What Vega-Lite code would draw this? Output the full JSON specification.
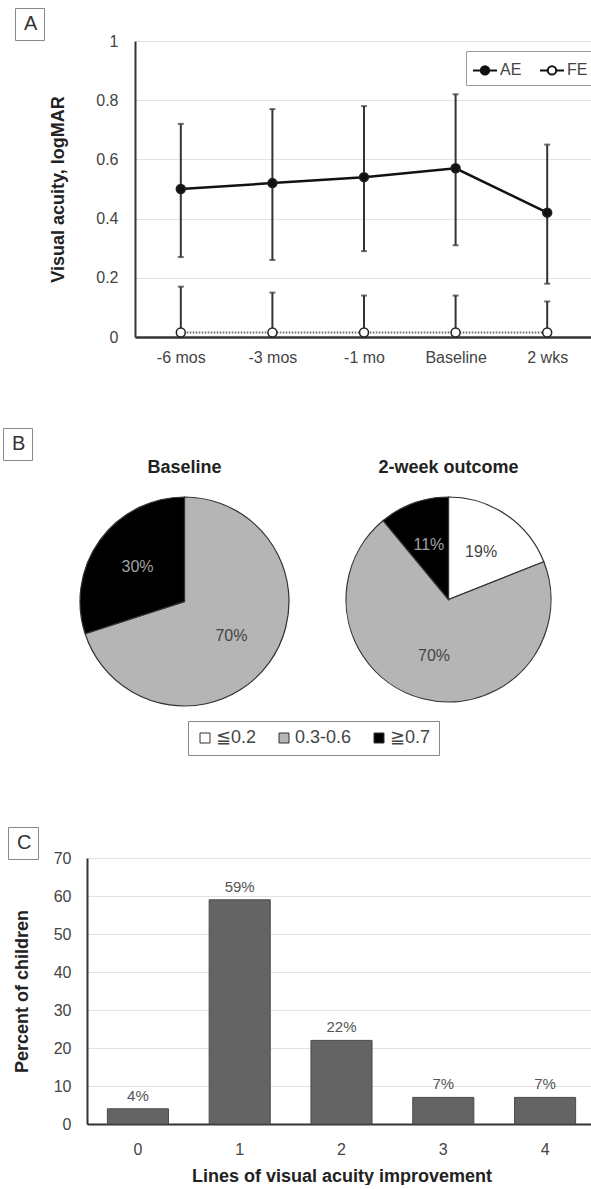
{
  "$schema": "https://vega.github.io/schema/vega-lite/v6.json",
  "background": "white",
  "padding": {"left": 0, "top": 7, "right": 0, "bottom": 0},
  "config": {
    "font": "Liberation Sans",
    "view": {"stroke": null},
    "axis": {"labelFont": "Liberation Sans", "labelFontSize": 16, "labelColor": "#444", "titleFont": "Liberation Sans", "titleFontSize": 18, "titleFontWeight": "bold", "titleColor": "#222", "gridColor": "#e2e2e2", "gridWidth": 1, "domainColor": "#333", "domainWidth": 2, "ticks": false, "labelOverlap": false},
    "legend": {"labelFont": "Liberation Sans", "titleFont": "Liberation Sans"},
    "title": {"font": "Liberation Sans", "fontSize": 18, "fontWeight": "bold", "color": "#222"}
  },
  "columns": 1,
  "spacing": 62,
  "resolve": {
    "scale": {"shape": "independent", "fill": "independent", "color": "independent"},
    "legend": {"shape": "independent", "fill": "independent", "color": "independent"}
  },
  "concat": [
    {
      "spacing": 13,
      "resolve": {
        "scale": {"shape": "independent", "fill": "independent"},
        "legend": {"shape": "independent", "fill": "independent"}
      },
      "hconcat": [
        {"width": 1, "height": 1, "data": {"values": []}, "mark": {"type": "point", "opacity": 0}},
        {
          "width": 458,
          "height": 296,
          "data": {"values": [
            {"time": "-6 mos", "eye": "AE", "va": 0.50, "lo": 0.27, "hi": 0.72},
            {"time": "-3 mos", "eye": "AE", "va": 0.52, "lo": 0.26, "hi": 0.77},
            {"time": "-1 mo", "eye": "AE", "va": 0.54, "lo": 0.29, "hi": 0.78},
            {"time": "Baseline", "eye": "AE", "va": 0.57, "lo": 0.31, "hi": 0.82},
            {"time": "2 wks", "eye": "AE", "va": 0.42, "lo": 0.18, "hi": 0.65},
            {"time": "-6 mos", "eye": "FE", "va": 0.015, "lo": -0.14, "hi": 0.17},
            {"time": "-3 mos", "eye": "FE", "va": 0.015, "lo": -0.12, "hi": 0.15},
            {"time": "-1 mo", "eye": "FE", "va": 0.015, "lo": -0.11, "hi": 0.14},
            {"time": "Baseline", "eye": "FE", "va": 0.015, "lo": -0.11, "hi": 0.14},
            {"time": "2 wks", "eye": "FE", "va": 0.015, "lo": -0.09, "hi": 0.12}
          ]},
          "encoding": {
            "x": {"field": "time", "type": "ordinal", "sort": ["-6 mos", "-3 mos", "-1 mo", "Baseline", "2 wks"], "scale": {"type": "point", "padding": 0.5}, "axis": {"title": null, "labelAngle": 0, "labelPadding": 12, "grid": false, "domainWidth": 2.5}}
          },
          "layer": [
            {
              "mark": {"type": "rule", "color": "#333", "strokeWidth": 2, "clip": true},
              "encoding": {
                "y": {"field": "lo", "type": "quantitative", "title": "Visual acuity, logMAR", "scale": {"domain": [0, 1]}, "axis": {"values": [0, 0.2, 0.4, 0.6, 0.8, 1], "tickCount": 12, "format": "~g", "labelPadding": 17, "titlePadding": 28, "grid": true}},
                "y2": {"field": "hi"}
              }
            },
            {
              "mark": {"type": "tick", "orient": "horizontal", "color": "#333", "thickness": 2, "size": 6, "clip": true},
              "encoding": {"y": {"field": "hi", "type": "quantitative", "title": "Visual acuity, logMAR"}}
            },
            {
              "mark": {"type": "tick", "orient": "horizontal", "color": "#333", "thickness": 2, "size": 6, "clip": true},
              "encoding": {"y": {"field": "lo", "type": "quantitative", "title": "Visual acuity, logMAR"}}
            },
            {
              "transform": [{"filter": "datum.eye === 'FE'"}],
              "mark": {"type": "line", "color": "#666", "strokeWidth": 2, "strokeDash": [1.5, 1.5]},
              "encoding": {"y": {"field": "va", "type": "quantitative", "title": "Visual acuity, logMAR"}}
            },
            {
              "transform": [{"filter": "datum.eye === 'AE'"}],
              "mark": {"type": "line", "color": "#111", "strokeWidth": 2.5},
              "encoding": {"y": {"field": "va", "type": "quantitative", "title": "Visual acuity, logMAR"}}
            },
            {
              "mark": {"type": "circle", "size": 80, "stroke": "#222", "strokeWidth": 1.5, "opacity": 1},
              "encoding": {
                "y": {"field": "va", "type": "quantitative", "title": "Visual acuity, logMAR"},
                "fill": {"field": "eye", "type": "nominal", "scale": {"domain": ["AE", "FE"], "range": ["#111111", "#ffffff"]},
                  "legend": {"orient": "none", "legendX": 331, "legendY": 10, "direction": "horizontal", "title": null, "strokeColor": "#999", "padding": 6,
                    "symbolType": "M-1,0H-0.35M0.35,0H1M-0.35,0A0.35,0.35,0,1,0,0.35,0A0.35,0.35,0,1,0,-0.35,0Z", "symbolSize": 576, "symbolStrokeColor": "#111", "symbolStrokeWidth": 2,
                    "labelFontSize": 16, "labelColor": "#444", "labelOffset": 2, "columnPadding": 14}}
              }
            },
            {
              "mark": {"type": "point", "opacity": 0},
              "encoding": {"shape": {"datum": "A", "legend": {"orient": "none", "legendX": -120, "legendY": -33, "title": null, "strokeColor": "#888", "padding": 6, "symbolSize": 0, "symbolOpacity": 0, "symbolStrokeWidth": 0, "labelFontSize": 20, "labelColor": "#333", "labelOffset": -17}}}
            }
          ]
        }
      ]
    },
    {
      "columns": 1,
      "spacing": 70,
      "resolve": {
        "scale": {"color": "independent", "shape": "independent"},
        "legend": {"color": "independent", "shape": "independent"}
      },
      "concat": [
        {
          "spacing": 51,
          "resolve": {
            "scale": {"color": "shared", "shape": "shared"},
            "legend": {"color": "shared", "shape": "shared"}
          },
          "hconcat": [
            {"width": 26, "height": 1, "data": {"values": []}, "mark": {"type": "point", "opacity": 0}},
            {
              "width": 209,
              "height": 209,
              "title": {"text": "Baseline", "offset": 18},
              "data": {"values": [
                {"cat": "0.3-0.6", "pct": 70, "k": 2, "label": "70%"},
                {"cat": "≧0.7", "pct": 30, "k": 3, "label": "30%"}
              ]},
              "layer": [
                {
                  "mark": {"type": "arc", "stroke": "#333", "strokeWidth": 1.2},
                  "encoding": {
                    "theta": {"field": "pct", "type": "quantitative", "stack": true},
                    "order": {"field": "k", "type": "quantitative"},
                    "color": {"field": "cat", "type": "nominal", "scale": {"domain": ["≦0.2", "0.3-0.6", "≧0.7"], "range": ["#ffffff", "#b5b5b5", "#000000"]},
                      "legend": {"orient": "none", "legendX": 188, "legendY": 224, "direction": "horizontal", "title": null, "strokeColor": "#888", "padding": 8,
                        "symbolType": "square", "symbolSize": 100, "symbolStrokeColor": "#333", "symbolStrokeWidth": 1, "labelFontSize": 18, "labelColor": "#444", "labelOffset": 2, "columnPadding": 18}}
                  }
                },
                {
                  "mark": {"type": "text", "radius": 58, "fontSize": 16},
                  "encoding": {
                    "theta": {"field": "pct", "type": "quantitative", "stack": true},
                    "order": {"field": "k", "type": "quantitative"},
                    "text": {"field": "label"},
                    "color": {"condition": {"test": "datum.cat === '≧0.7'", "value": "#a0a0a0"}, "value": "#444"}
                  }
                },
                {
                  "mark": {"type": "point", "opacity": 0},
                  "encoding": {"shape": {"datum": "B", "legend": {"orient": "none", "legendX": 3, "legendY": -69, "title": null, "strokeColor": "#888", "padding": 6, "symbolSize": 0, "symbolOpacity": 0, "symbolStrokeWidth": 0, "labelFontSize": 20, "labelColor": "#333", "labelOffset": -17}}}
                }
              ]
            },
            {
              "width": 205,
              "height": 205,
              "title": {"text": "2-week outcome", "offset": 18},
              "data": {"values": [
                {"cat": "≦0.2", "pct": 19, "k": 1, "label": "19%"},
                {"cat": "0.3-0.6", "pct": 70, "k": 2, "label": "70%"},
                {"cat": "≧0.7", "pct": 11, "k": 3, "label": "11%"}
              ]},
              "layer": [
                {
                  "mark": {"type": "arc", "stroke": "#333", "strokeWidth": 1.2},
                  "encoding": {
                    "theta": {"field": "pct", "type": "quantitative", "stack": true},
                    "order": {"field": "k", "type": "quantitative"},
                    "color": {"field": "cat", "type": "nominal"}
                  }
                },
                {
                  "mark": {"type": "text", "radius": 58, "fontSize": 16},
                  "encoding": {
                    "theta": {"field": "pct", "type": "quantitative", "stack": true},
                    "order": {"field": "k", "type": "quantitative"},
                    "text": {"field": "label"},
                    "color": {"condition": {"test": "datum.cat === '≧0.7'", "value": "#a0a0a0"}, "value": "#444"}
                  }
                }
              ]
            }
          ]
        },
        {
          "spacing": 6,
          "resolve": {
            "scale": {"shape": "independent"},
            "legend": {"shape": "independent"}
          },
          "hconcat": [
            {"width": 1, "height": 1, "data": {"values": []}, "mark": {"type": "point", "opacity": 0}},
            {
              "width": 509,
              "height": 266,
              "data": {"values": [
                {"lines": "0", "pct": 4, "label": "4%"},
                {"lines": "1", "pct": 59, "label": "59%"},
                {"lines": "2", "pct": 22, "label": "22%"},
                {"lines": "3", "pct": 7, "label": "7%"},
                {"lines": "4", "pct": 7, "label": "7%"}
              ]},
              "encoding": {
                "x": {"field": "lines", "type": "ordinal", "scale": {"paddingInner": 0.4, "paddingOuter": 0.2}, "axis": {"title": "Lines of visual acuity improvement", "labelAngle": 0, "labelPadding": 17, "titlePadding": 10, "grid": false}}
              },
              "layer": [
                {
                  "mark": {"type": "bar", "color": "#646464", "stroke": "#4a4a4a", "strokeWidth": 1},
                  "encoding": {"y": {"field": "pct", "type": "quantitative", "title": "Percent of children", "scale": {"domain": [0, 70], "nice": false}, "axis": {"values": [0, 10, 20, 30, 40, 50, 60, 70], "tickCount": 12, "labelOverlap": false, "labelPadding": 16, "titlePadding": 22, "grid": true}}}
                },
                {
                  "mark": {"type": "text", "baseline": "bottom", "dy": -5, "fontSize": 15, "color": "#555"},
                  "encoding": {"y": {"field": "pct", "type": "quantitative", "title": "Percent of children"}, "text": {"field": "label"}}
                },
                {
                  "mark": {"type": "point", "opacity": 0},
                  "encoding": {"shape": {"datum": "C", "legend": {"orient": "none", "legendX": -79, "legendY": -31, "title": null, "strokeColor": "#888", "padding": 6, "symbolSize": 0, "symbolOpacity": 0, "symbolStrokeWidth": 0, "labelFontSize": 20, "labelColor": "#333", "labelOffset": -17}}}
                }
              ]
            }
          ]
        }
      ]
    }
  ]
}
